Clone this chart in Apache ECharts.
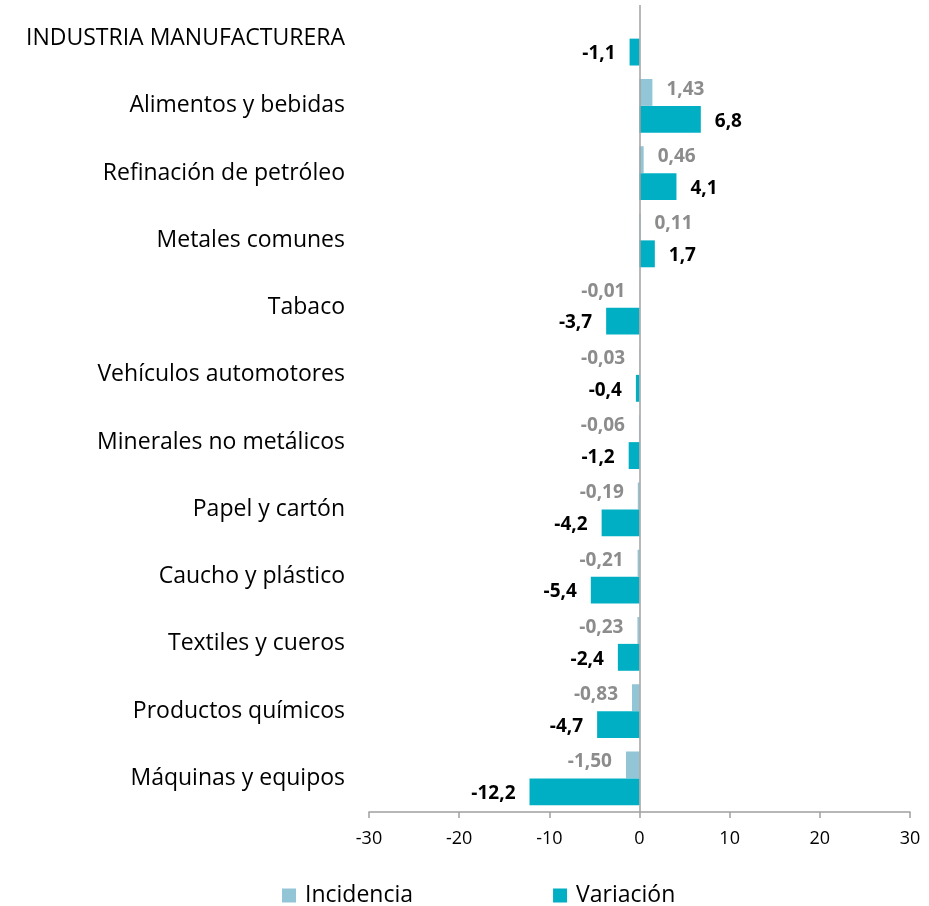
<!DOCTYPE html>
<html><head><meta charset="utf-8">
<script src="https://cdn.jsdelivr.net/npm/echarts@6/dist/echarts.min.js"></script>
<style>html,body{margin:0;padding:0;background:#fff}#c{width:929px;height:906px}</style>
</head><body><div id="c"></div>
<script>
const categories = ["INDUSTRIA MANUFACTURERA","Alimentos y bebidas","Refinación de petróleo","Metales comunes","Tabaco","Vehículos automotores","Minerales no metálicos","Papel y cartón","Caucho y plástico","Textiles y cueros","Productos químicos","Máquinas y equipos"];
const incidencia = [null,1.43,0.46,0.11,-0.01,-0.03,-0.06,-0.19,-0.21,-0.23,-0.83,-1.50];
const variacion = [-1.1,6.8,4.1,1.7,-3.7,-0.4,-1.2,-4.2,-5.4,-2.4,-4.7,-12.2];
const xTicks = [-30,-20,-10,0,10,20,30];

const FONT = "Open Sans";
function items(arr, dec, color, offset){
  return arr.map(v => v === null ? null : ({
    value: v,
    label: {show:true, position: v >= 0 ? 'right' : 'left', distance: 14,
      formatter: () => v.toFixed(dec).replace('.', ','),
      color: color, fontWeight: 'bold', fontSize: 19, fontFamily: FONT, offset: offset}
  }));
}
const chart = echarts.init(document.getElementById('c'), null, {renderer:'canvas'});
chart.setOption({
  animation:false,
  grid:{left:369,right:19,top:5,bottom:94,containLabel:false},
  legend:{bottom:-6,left:277,itemWidth:14,itemHeight:14,itemGap:140,icon:'rect',
    textStyle:{fontSize:23,fontFamily:FONT,color:'#000',padding:[0,0,0,4]},
    data:['Incidencia','Variación']},
  xAxis:{type:'value',min:-30,max:30,interval:10,
    axisLine:{show:true,lineStyle:{color:'#a0a0a0',width:1.5}},
    axisTick:{show:true,length:6,lineStyle:{color:'#a0a0a0',width:1.5}},
    splitLine:{show:false},
    axisLabel:{fontSize:18,fontFamily:FONT,color:'#000',margin:18,
      formatter: v => xTicks.includes(v) ? String(v) : ''}},
  yAxis:{type:'category',data:categories,inverse:true,
    axisLine:{show:false},axisTick:{show:false},
    axisLabel:{fontSize:23,fontFamily:FONT,color:'#000',margin:24,padding:[8,0,0,0]}},
  series:[
    {name:'Incidencia',type:'bar',data:items(incidencia,2,'#8c8c8c',[0,-3]),barGap:'0%',barCategoryGap:'20%',
      itemStyle:{color:'#92c5d6'},
      markLine:{silent:true,symbol:['none','none'],label:{show:false},
        lineStyle:{color:'#a0a0a0',width:1.5,type:'solid'},data:[{xAxis:0}]}},
    {name:'Variación',type:'bar',data:items(variacion,1,'#000',[0,2]),barGap:'0%',barCategoryGap:'20%',
      itemStyle:{color:'#00afc3'}}
  ]
});
</script></body></html>
